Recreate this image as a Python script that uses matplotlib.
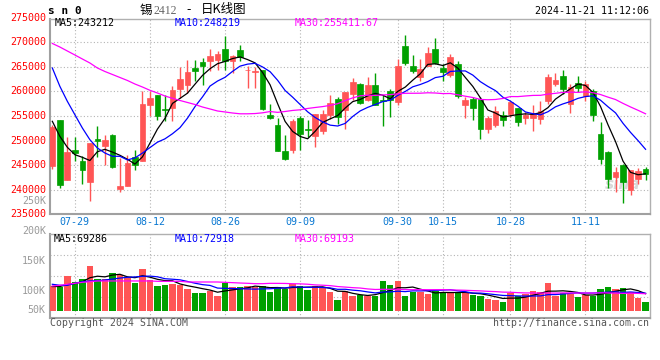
import numpy as np
import pandas as pd
import matplotlib
matplotlib.use("Agg")
import matplotlib.pyplot as plt
import matplotlib.transforms as mtransforms

plt.rcParams['font.family'] = ['DejaVu Sans Mono']

# 锡2412 日K (07-24 ~ 11-21)
open_ = [244895, 254259, 242046, 248085, 245778, 241639, 250256, 248832, 251205, 240200,
         240688, 246592, 245914, 257200, 259348, 256498, 256633, 260569, 261383, 264775,
         265997, 266133, 266472, 268643, 266268, 268372, 264300, 263961, 264436, 255277,
         253241, 247949, 248152, 254598, 252359, 251002, 251884, 255277, 258533, 256294,
         259483, 261587, 258330, 261315, 258300, 260090, 257912, 269247, 265177, 262877,
         265238, 268637, 264770, 263284, 265584, 257302, 258462, 258462, 252418, 253231,
         255144, 255409, 256630, 254595, 254595, 254453, 258116, 261514, 263203, 257444,
         261718, 259011, 260029, 251339, 247676, 242589, 245092, 240004, 242182, 244217]
high = [253241, 254259, 250663, 250730, 246796, 249600, 252970, 251070, 251300, 246500,
        247000, 248017, 260162, 260000, 259348, 259348, 261044, 264911, 266472, 266336,
        266811, 268643, 268304, 271221, 267354, 269389, 265250, 264911, 264436, 257448,
        254598, 251205, 254395, 255073, 254259, 255413, 256294, 259212, 258873, 259890,
        262740, 261700, 262944, 263758, 259275, 260435, 266602, 271486, 267415, 266663,
        268983, 270875, 265584, 267619, 266256, 258869, 258869, 258869, 254941, 256976,
        255958, 257994, 256630, 255816, 257180, 257994, 263549, 263753, 264302, 261514,
        263203, 262186, 260558, 253720, 247940, 244563, 245295, 244074, 244420, 244563]
low = [244286, 240350, 242046, 245914, 241232, 237771, 246592, 245100, 244489, 239500,
       240688, 244081, 245914, 255000, 254259, 253920, 254055, 258669, 259687, 262197,
       261383, 264097, 264436, 264436, 263758, 266268, 260705, 260705, 256300, 254395,
       247813, 246117, 247474, 248152, 250731, 248627, 251341, 254462, 253377, 252427,
       258330, 257400, 258126, 257176, 252967, 254860, 257240, 265380, 263691, 262186,
       265238, 265645, 262063, 262938, 258665, 254595, 254249, 250383, 251543, 252702,
       253028, 254798, 252906, 253374, 252010, 253374, 257444, 261046, 259479, 255613,
       259886, 258116, 253924, 245295, 240350, 239537, 237297, 238986, 241226, 242039]
close = [252766, 241028, 247677, 247406, 244081, 249510, 249985, 250120, 244625, 240800,
         245438, 245100, 257448, 258650, 255073, 256300, 260366, 262537, 263961, 264233,
         265250, 267150, 267625, 266268, 267150, 266947, 264436, 264233, 256498, 254598,
         247813, 246321, 254055, 251409, 252223, 255413, 255413, 257651, 254734, 259890,
         261926, 257651, 261315, 257176, 258100, 258258, 265177, 265727, 264221, 264567,
         267823, 265788, 263956, 267009, 259133, 258319, 256630, 252418, 254595, 256081,
         254249, 257851, 253720, 255267, 255613, 255958, 262938, 262389, 260558, 260904,
         260700, 261514, 255267, 246313, 242243, 243606, 241571, 243952, 243871, 243199]
volume = [101200, 98500, 143500, 118900, 130000, 184600, 130000, 130000, 155800, 146000,
          132400, 112300, 170600, 125800, 102400, 105400, 109600, 105400, 88900, 73900,
          73900, 80800, 61600, 114700, 96000, 96000, 101200, 96000, 101200, 77800,
          98500, 88900, 109600, 101200, 85000, 101200, 91800, 78100, 43900, 80800,
          61600, 64300, 61600, 60400, 121900, 105400, 121900, 60400, 75400, 78100,
          68500, 80800, 71200, 73900, 78100, 71200, 64300, 60400, 46600, 43900,
          35800, 71200, 60400, 67200, 80800, 76600, 115000, 61600, 73900, 67200,
          56200, 63100, 60400, 88900, 97300, 88900, 93100, 78100, 53500, 35800]

# 均线起始段(窗口之前的数据不在图内, 从图上读)
ma5_head = [253920, 250870, 248630, 247130]
ma10_head = [264770, 261050, 257990, 255270, 252560, 250180, 248490, 247470, 246800]
ma30_head = [269760, 269040, 268230, 267420, 266600, 265790, 264770, 264060, 263450, 262840,
             262230, 261510, 260900, 260230, 259680, 259070, 258600, 258160, 257750, 257340,
             256830, 256430, 256020, 255820, 255610, 255450, 255450, 255500, 255650]
vma5_head = [99200, 99200, 106600, 111500]
vma10_head = [108300, 104100, 104100, 112300, 118900, 121900, 123000, 126000, 129500]
vma30_head = [101200, 104100, 108300, 112300, 116400, 118900, 121900, 121900, 121900, 121900,
              121900, 121900, 121900, 121900, 120400, 120400, 120400, 120400, 117700, 117700,
              117700, 117700, 117700, 116200, 115000, 113500, 112300, 110800, 110800]

date_labels = ["07-29", "08-12", "08-26", "09-09", "09-30", "10-15", "10-28", "11-11"]
date_pos = [3, 13, 23, 33, 46, 52, 61, 71]
price_labels = [275000, 270000, 265000, 260000, 255000, 250000, 245000, 240000, 235000]
vol_labels = ["250K", "200K", "150K", "100K", "50K"]

ma_price_text = ["MA5:243212", "MA10:248219", "MA30:255411.67"]
ma_vol_text = ["MA5:69286", "MA10:72918", "MA30:69193"]


def ma(values, n, head):
    s = pd.Series(values, dtype=float).rolling(n).mean()
    s.iloc[:len(head)] = head
    return s.values


RED = '#ff5555'
GREEN = '#00a000'
GRID = '#b4b4b4'
W, H = 660, 360

o = np.array(open_, dtype=float)
c = np.array(close, dtype=float)
hi = np.array(high, dtype=float)
lo = np.array(low, dtype=float)
v = np.array(volume, dtype=float)
idx = np.arange(len(c))
cols = [RED if cc >= oo else GREEN for oo, cc in zip(o, c)]

fig = plt.figure(figsize=(W / 100, H / 100), dpi=100)
ax = fig.add_axes([50 / W, 1 - 213.5 / H, 600 / W, 194.5 / H])
ax2 = fig.add_axes([50 / W, 1 - 317.7 / H, 600 / W, 83.4 / H], sharex=ax)

# K线
ax.vlines(idx, lo, hi, colors=cols, linewidth=1.0, zorder=3)
ax.bar(idx, np.abs(c - o), bottom=np.minimum(o, c), width=0.76, color=cols,
       edgecolor=cols, linewidth=0.5, zorder=4)
ax.plot(idx, ma(c, 5, ma5_head), color='black', lw=0.9, zorder=5)
ax.plot(idx, ma(c, 10, ma10_head), color='#0000ff', lw=0.9, zorder=5)
ax.plot(idx, ma(c, 30, ma30_head), color='#ff00ff', lw=0.9, zorder=5)

ax.set_xlim(-0.31, 79.59)
ax.set_ylim(235160, 274740)
ax.set_yticks(price_labels[1:-1])
ax.tick_params(axis='y', length=0, labelleft=False)
ax.set_xticks(date_pos, date_labels)
ax.tick_params(axis='x', length=0, pad=2.5, labelsize=7.2, labelcolor='#0a78d2')
ax.grid(True, color=GRID, linestyle=(0, (1, 2)), linewidth=0.8)
ax.set_axisbelow(True)

tr = mtransforms.blended_transform_factory(ax.transAxes, ax.transData)
for p in price_labels:
    ax.text(-0.007, p, str(p), transform=tr, ha='right', va='center',
            color='#ff0000', fontsize=7.2, clip_on=False)

# 成交量
ax2.bar(idx, v, width=0.86, color=cols, linewidth=0, zorder=3)
ax2.plot(idx, ma(v, 5, vma5_head), color='black', lw=0.9, zorder=5)
ax2.plot(idx, ma(v, 10, vma10_head), color='#0000ff', lw=0.9, zorder=5)
ax2.plot(idx, ma(v, 30, vma30_head), color='#ff00ff', lw=0.9, zorder=5)
ax2.set_ylim(-28700, 313200)
ax2.set_yticks(np.linspace(-28700, 313200, 5)[1:-1])
ax2.tick_params(axis='y', length=0, labelleft=False)
ax2.tick_params(axis='x', length=0, labelbottom=False)
ax2.grid(True, color=GRID, linestyle=(0, (1, 2)), linewidth=0.8)
ax2.set_axisbelow(True)

for lab, fy in zip(vol_labels, [1.405, 1.045, 0.685, 0.325, 0.092]):
    ax2.text(-0.007, fy, lab, transform=ax2.transAxes, ha='right', va='center',
             color='#9a9a9a', fontsize=7.2, clip_on=False)

for a in (ax, ax2):
    for side in ('top', 'right'):
        a.spines[side].set_color('#b0b0b0')
        a.spines[side].set_linewidth(1.0)
    for side in ('left', 'bottom'):
        a.spines[side].set_color('#a0a0a0')
        a.spines[side].set_linewidth(1.5)

# 文字
def ftxt(x, y, s, **kw):
    fig.text(x / W, 1 - y / H, s, va='center', **kw)

ftxt(48, 11, "s n 0", fontsize=8, fontweight='bold')
ftxt(140, 10, "锡", fontsize=9, family=['Noto Sans CJK SC', 'DejaVu Sans'])
ftxt(153, 10.5, "2412", fontsize=8.5, family='Liberation Serif', color='#666666')
ftxt(186, 10, "-", fontsize=9, family=['Noto Sans CJK SC', 'DejaVu Sans'])
ftxt(201, 10, "日K线图", fontsize=9, family=['Noto Sans CJK SC', 'DejaVu Sans'])
ftxt(649, 11.3, "2024-11-21 11:12:06", fontsize=7.2, ha='right')

for s, x, col in zip(ma_price_text, [55, 175, 295], ['black', '#0000ff', '#ff00ff']):
    ftxt(x, 23, s, fontsize=7.2, color=col)
for s, x, col in zip(ma_vol_text, [54, 175, 295], ['black', '#0000ff', '#ff00ff']):
    ftxt(x, 238.5, s, fontsize=7.2, color=col)

ftxt(50, 323, "Copyright 2024 SINA.COM", fontsize=7.1, color='#555555')
ftxt(649, 323.5, "http://finance.sina.com.cn", fontsize=7.1, color='#555555', ha='right')

ax.text(0.955, 0.15, "sina", transform=ax.transAxes, ha='center', va='center',
        fontsize=11, fontweight='bold', style='italic', family='DejaVu Sans',
        color='#d8d8d8', zorder=2)

fig.savefig("out.png", dpi=100)
